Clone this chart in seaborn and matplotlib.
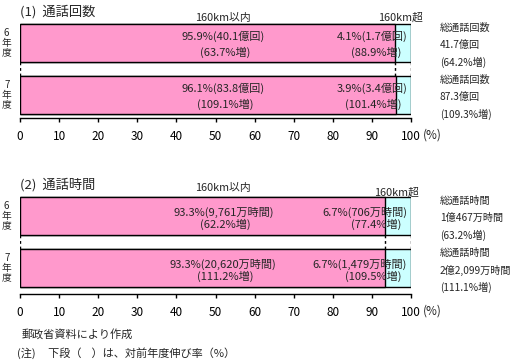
import matplotlib
matplotlib.use("Agg")
import matplotlib.pyplot as plt
import seaborn as sns
import pandas as pd

# --- data -------------------------------------------------------------
years = ["6\n年\n度", "7\n年\n度"]

calls_within = [95.9, 96.1]
calls_over = [4.1, 3.9]
calls_within_lbl = ["95.9%(40.1億回)", "96.1%(83.8億回)"]
calls_within_grw = ["(63.7%増)", "(109.1%増)"]
calls_over_lbl = ["4.1%(1.7億回)", "3.9%(3.4億回)"]
calls_over_grw = ["(88.9%増)", "(101.4%増)"]
calls_total = [("総通話回数", "41.7億回", "(64.2%増)"),
               ("総通話回数", "87.3億回", "(109.3%増)")]

time_within = [93.3, 93.3]
time_over = [6.7, 6.7]
time_within_lbl = ["93.3%(9,761万時間)", "93.3%(20,620万時間)"]
time_within_grw = ["(62.2%増)", "(111.2%増)"]
time_over_lbl = ["6.7%(706万時間)", "6.7%(1,479万時間)"]
time_over_grw = ["(77.4%増)", "(109.5%増)"]
time_total = [("総通話時間", "1億467万時間", "(63.2%増)"),
              ("総通話時間", "2億2,099万時間", "(111.1%増)")]

PINK = "#FF99CC"
CYAN = "#CCFFFF"

sns.set_style("white")
plt.rcParams["font.family"] = ["Noto Sans CJK JP", "DejaVu Sans"]

W, H = 513, 361
fig = plt.figure(figsize=(W / 100, H / 100), dpi=100)


def make_axes(top_px, bottom_px):
    return fig.add_axes([20 / W, 1 - bottom_px / H, 391 / W, (bottom_px - top_px) / H])


def draw_panel(ax, title, within, over, w_lbl, w_grw, o_lbl, o_grw, totals,
               ylim, dy1, dy2, title_y, head_y, over_head_x, over_head_y):
    df = pd.DataFrame({"year": years,
                       "total": [a + b for a, b in zip(within, over)],
                       "within": within})
    bw = 38 / 52
    sns.barplot(data=df, x="total", y="year", orient="h", color=CYAN,
                edgecolor="black", linewidth=1, width=bw, saturation=1, ax=ax)
    sns.barplot(data=df, x="within", y="year", orient="h", color=PINK,
                edgecolor="black", linewidth=1, width=bw, saturation=1, ax=ax)
    ax.set_xlim(0, 100)
    ax.set_ylim(*ylim)
    ax.set_xlabel("")
    ax.set_ylabel("")
    ax.set_yticks([])
    for s in ["top", "left", "right"]:
        ax.spines[s].set_visible(False)
    ax.spines["bottom"].set_color("black")
    ax.spines["bottom"].set_linewidth(1)
    ax.set_xticks(range(0, 101, 10))
    ax.tick_params(axis="x", direction="out", length=3, width=1, pad=6,
                   labelsize=8.5, colors="black", bottom=True)

    # dashed connectors between the two bars
    ax.vlines([0, within[0], 100], bw / 2, 1 - bw / 2, colors="black",
              linestyles=(0, (2, 2)), linewidth=1)

    for i in range(len(years)):
        ax.text(-3.4, i, years[i], ha="center", va="center", fontsize=7,
                linespacing=0.95)
        ax.text(52, i + dy1, w_lbl[i], ha="center", va="center", fontsize=8)
        ax.text(52.5, i + dy2, w_grw[i], ha="center", va="center", fontsize=8)
        ax.text(99, i + dy1, o_lbl[i], ha="right", va="center", fontsize=8)
        ax.text(97.5, i + dy2, o_grw[i], ha="right", va="center", fontsize=8)
        for line, off in zip(totals[i], [-0.29, 0.04, 0.37]):
            ax.text(107.4, i + off, line, ha="left", va="center", fontsize=7.3,
                    clip_on=False)

    ax.text(0, title_y, title, ha="left", va="center", fontsize=9.5)
    ax.text(52, head_y, "160km以内", ha="center", va="center", fontsize=7.8)
    ax.text(over_head_x, over_head_y, "160km超", ha="center", va="center",
            fontsize=7.8)
    ax.text(103, ylim[0] + 17 / 52, "(%)", ha="left", va="center", fontsize=8.5)


ax1 = make_axes(20, 118)
draw_panel(ax1, "(1)  通話回数", calls_within, calls_over,
           calls_within_lbl, calls_within_grw, calls_over_lbl, calls_over_grw,
           calls_total, (1.44, -0.44), -0.12, 0.18,
           -0.60, -0.48, 97.4, -0.48)

ax2 = make_axes(190, 294)
draw_panel(ax2, "(2)  通話時間", time_within, time_over,
           time_within_lbl, time_within_grw, time_over_lbl, time_over_grw,
           time_total, (1.5, -0.5), -0.06, 0.17,
           -0.60, -0.54, 96.4, -0.46)

fig.text(22 / W, 1 - 334 / H, "郵政省資料により作成", ha="left", va="center",
         fontsize=8)
fig.text(17 / W, 1 - 353 / H, "(注)     下段（    ）は、対前年度伸び率（%）",
         ha="left", va="center", fontsize=8)

fig.savefig("out.png", dpi=100, facecolor="white")
